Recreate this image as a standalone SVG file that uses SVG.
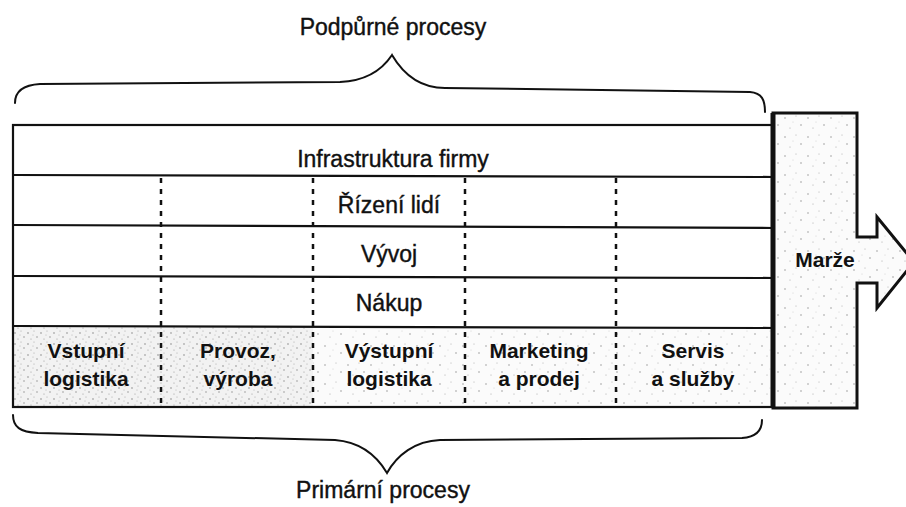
<svg xmlns="http://www.w3.org/2000/svg" width="906" height="507" viewBox="0 0 906 507">
  <defs>
    <!-- sparse speckle used for the shaded cells -->
    <pattern id="speckle" width="23" height="19" patternUnits="userSpaceOnUse">
      <rect width="23" height="19" fill="#fbfbfb"/>
      <circle cx="3" cy="4" r="0.7" fill="#8a8a8a"/>
      <circle cx="14" cy="2" r="0.5" fill="#a0a0a0"/>
      <circle cx="19" cy="11" r="0.7" fill="#888"/>
      <circle cx="8" cy="14" r="0.5" fill="#999"/>
      <circle cx="11" cy="8" r="0.4" fill="#aaa"/>
    </pattern>
    <pattern id="speckleDense" width="13" height="11" patternUnits="userSpaceOnUse">
      <rect width="13" height="11" fill="#f2f2f2"/>
      <circle cx="2" cy="3" r="0.7" fill="#777"/>
      <circle cx="8" cy="1" r="0.5" fill="#999"/>
      <circle cx="11" cy="7" r="0.7" fill="#888"/>
      <circle cx="5" cy="9" r="0.6" fill="#999"/>
      <circle cx="7" cy="5" r="0.5" fill="#aaa"/>
    </pattern>
  </defs>
  <style>
    .lbl { font-family: "Liberation Sans", Arial, sans-serif; font-size: 23px; fill: #111; stroke: #111; stroke-width: 0.4; text-anchor: middle; }
    .prim { font-family: "Liberation Sans", Arial, sans-serif; font-size: 21px; font-weight: bold; fill: #111; text-anchor: middle; }
    .rule { stroke: #111; stroke-width: 2.2; fill: none; }
    .dash { stroke: #111; stroke-width: 2.5; stroke-dasharray: 5 6; fill: none; }
    .brace { stroke: #111; stroke-width: 2; fill: none; stroke-linecap: round; }
  </style>

  <rect width="906" height="507" fill="#fff"/>

  <!-- braces -->
  <g id="support-brace">
    <path class="brace" d="M15 103 C15 92 22 85 40 84 L340 82 C365 81 382 70 392 55 C402 72 418 88 445 88 L750 92 C762 93 765 100 765 112"/>
    <text class="lbl" x="393" y="35">Podpůrné procesy</text>
  </g>
  <g id="primary-brace">
    <path class="brace" d="M13 415 C13 427 20 432 38 433 L335 440 C360 442 377 456 387 473 C397 455 415 441 440 440 L742 438 C757 437 762 430 762 420"/>
    <text class="lbl" x="383" y="498">Primární procesy</text>
  </g>

  <!-- primary activity cells (shaded) -->
  <g id="primary-row">
    <rect x="13" y="327" width="148" height="80" fill="url(#speckleDense)"/>
    <rect x="161" y="327" width="152" height="80" fill="url(#speckleDense)"/>
    <rect x="313" y="327" width="460" height="80" fill="url(#speckle)"/>
  </g>

  <!-- value chain grid -->
  <g id="grid">
    <rect class="rule" x="13" y="125" width="760" height="282"/>
    <line class="rule" x1="13" y1="175" x2="773" y2="177"/>
    <line class="rule" x1="13" y1="225" x2="773" y2="228"/>
    <line class="rule" x1="13" y1="276" x2="773" y2="278"/>
    <line class="rule" x1="13" y1="326" x2="773" y2="328"/>
    <line class="dash" x1="161" y1="178" x2="161" y2="407"/>
    <line class="dash" x1="313" y1="178" x2="313" y2="407"/>
    <line class="dash" x1="465" y1="178" x2="465" y2="407"/>
    <line class="dash" x1="616" y1="178" x2="616" y2="407"/>
  </g>

  <!-- support activities -->
  <g id="infrastructure"><text class="lbl" x="393" y="167">Infrastruktura firmy</text></g>
  <g id="hr"><text class="lbl" x="389" y="213">Řízení lidí</text></g>
  <g id="development"><text class="lbl" x="389" y="262">Vývoj</text></g>
  <g id="procurement"><text class="lbl" x="389" y="311">Nákup</text></g>

  <!-- primary activities -->
  <g id="inbound"><text class="prim" x="86" y="358">Vstupní</text><text class="prim" x="86" y="386">logistika</text></g>
  <g id="operations"><text class="prim" x="238" y="358">Provoz,</text><text class="prim" x="238" y="386">výroba</text></g>
  <g id="outbound"><text class="prim" x="389" y="358">Výstupní</text><text class="prim" x="389" y="386">logistika</text></g>
  <g id="marketing"><text class="prim" x="539" y="358">Marketing</text><text class="prim" x="539" y="386">a prodej</text></g>
  <g id="service"><text class="prim" x="693" y="358">Servis</text><text class="prim" x="693" y="386">a služby</text></g>

  <!-- margin block with arrow -->
  <g id="margin">
    <path d="M773 113 L857 113 L857 237 L877 237 L877 217 L914 262 L877 308 L877 283 L857 283 L857 408 L773 408 Z" fill="url(#speckle)" stroke="#111" stroke-width="3" stroke-linejoin="miter"/>
    <line x1="773" y1="113" x2="773" y2="408" stroke="#111" stroke-width="5"/>
    <text class="prim" x="825" y="267" font-size="22">Marže</text>
  </g>
</svg>
